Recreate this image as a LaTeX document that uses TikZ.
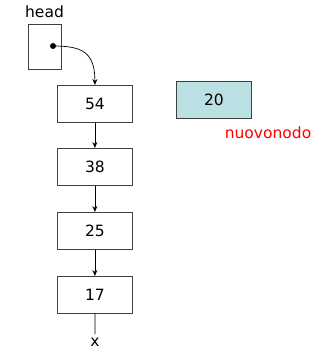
\documentclass[tikz,border=0pt]{standalone}
\usepackage{fontspec}
\setmainfont{DejaVu Sans}
\usetikzlibrary{arrows.meta}
\begin{document}
\begin{tikzpicture}[x=1pt,y=-1pt,
  font=\fontsize{15.5}{17}\selectfont,
  lbox/.style={draw=black!75,line width=0.8pt,minimum width=75pt,minimum height=37pt,inner sep=0pt,anchor=north west},
  link/.style={line width=0.7pt,-{Stealth[length=6pt,width=5pt]}}]
\useasboundingbox (0,0) rectangle (322,350);
\node[draw=black!75,line width=0.8pt,minimum width=33pt,minimum height=45pt,inner sep=0pt,anchor=north west] (head) at (28,24) {};
\node[anchor=south] (headlbl) at (44.5,21) {head};
\coordinate (dot) at (53,46);
\fill (dot) circle (3pt);
\node[lbox] (n54) at (57,85) {54};
\node[lbox] (n38) at (57,148) {38};
\node[lbox] (n25) at (57,212) {25};
\node[lbox] (n17) at (57,276) {17};
\node[lbox,fill={rgb,255:red,187;green,224;blue,227}] (n20) at (176,81) {20};
\node[text=red] (nuovo) at (268,133) {nuovonodo};
\node (xl) at (95,342) {x};
\draw[link] (dot) .. controls (82,46) and (95,52) .. (n54.north);
\draw[link] (n54.south) -- (n38.north);
\draw[link] (n38.south) -- (n25.north);
\draw[link] (n25.south) -- (n17.north);
\draw[line width=0.7pt] (n17.south) -- (xl.north);
\end{tikzpicture}
\end{document}
